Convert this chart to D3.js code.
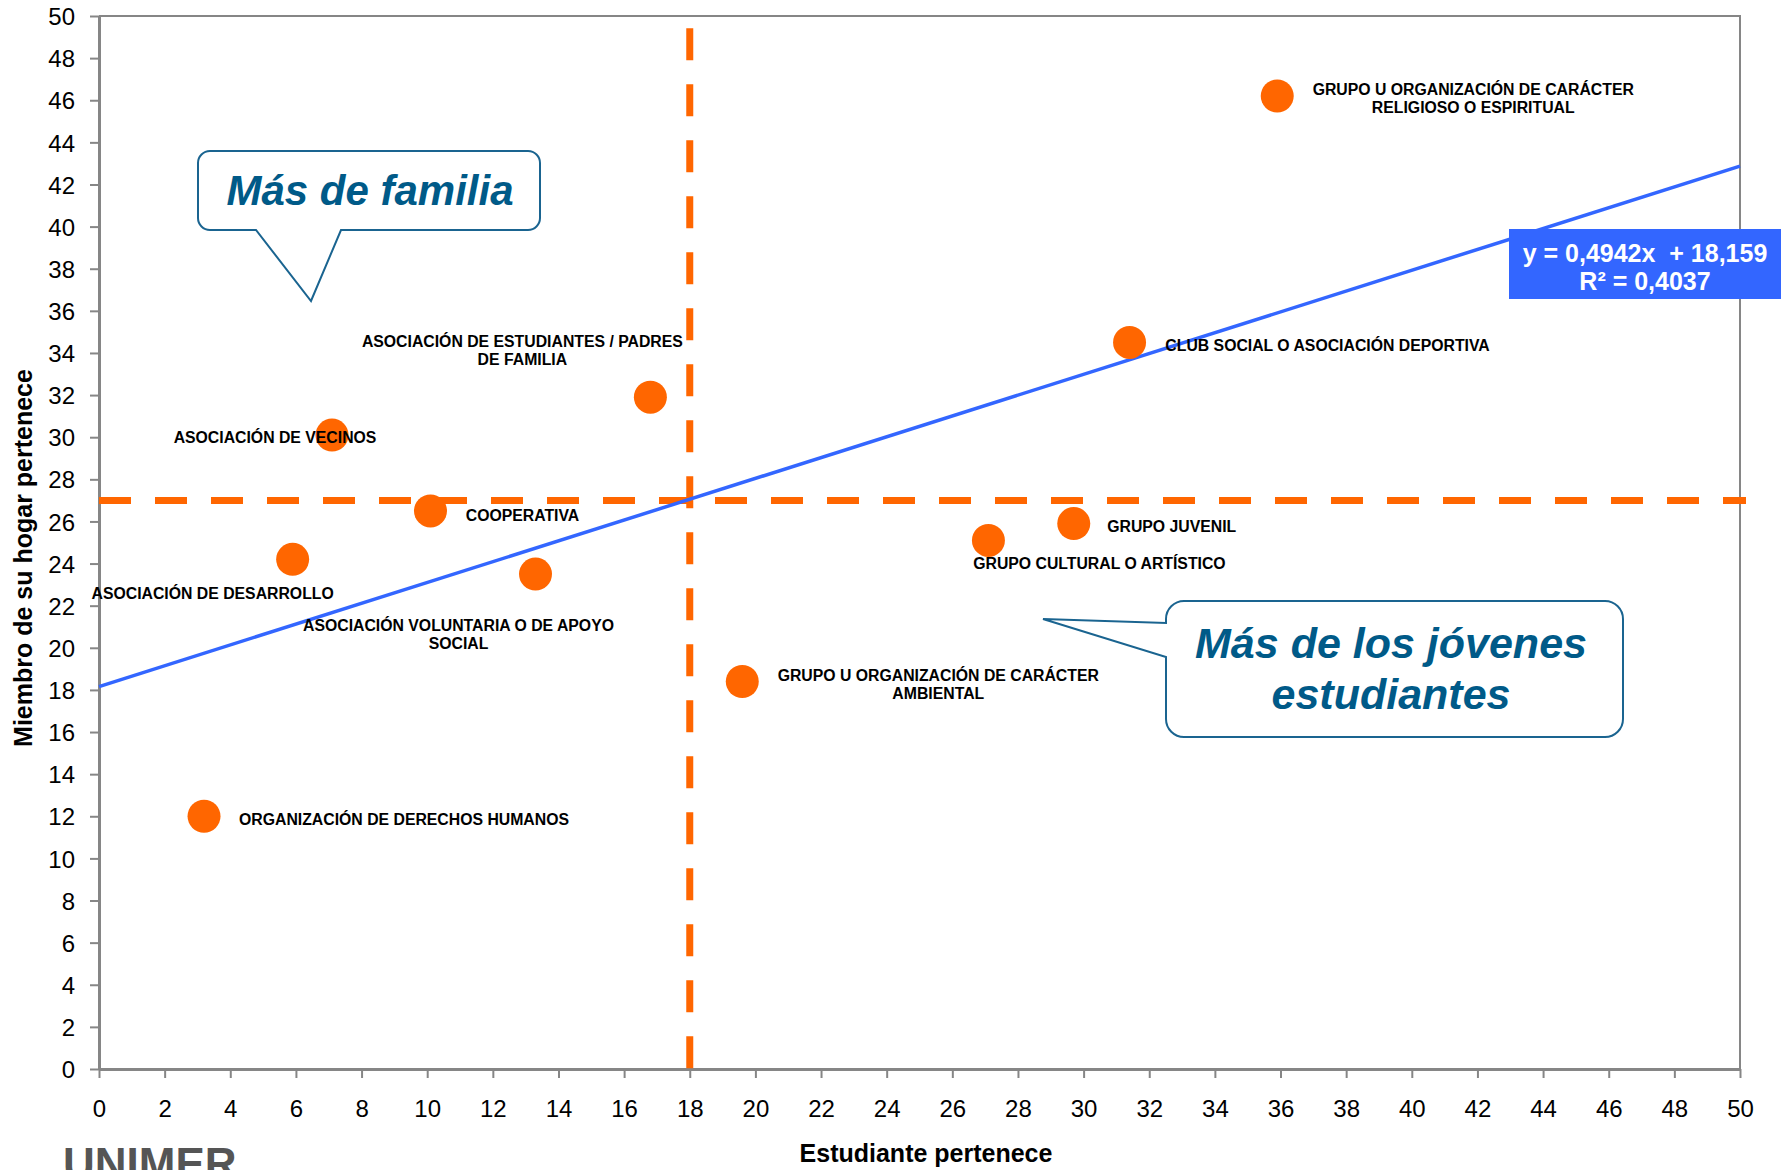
<!DOCTYPE html>
<html>
<head>
<meta charset="utf-8">
<script src="https://cdn.jsdelivr.net/npm/d3@7"></script>
<style>
  body { margin: 0; background: #fff; }
  text { font-family: "Liberation Sans", Arial, sans-serif; }
  .tick text { font-size: 24px; fill: #000; }
  .pointLabel { font-size: 15.8px; font-weight: bold; fill: #000; }
  .calloutText { font-weight: bold; font-style: italic; fill: #005a88; }
  .eq { white-space: pre; }
</style>
</head>
<body>
<div id="chart"></div>
<script>
// organisations (labels split into lines as in the original)
var groups = [
    ["GRUPO U ORGANIZACIÓN DE CARÁCTER", "RELIGIOSO O ESPIRITUAL"],
    ["CLUB SOCIAL O ASOCIACIÓN DEPORTIVA"],
    ["ASOCIACIÓN DE ESTUDIANTES / PADRES", "DE FAMILIA"],
    ["ASOCIACIÓN DE VECINOS"],
    ["COOPERATIVA"],
    ["ASOCIACIÓN DE DESARROLLO"],
    ["ASOCIACIÓN VOLUNTARIA O DE APOYO", "SOCIAL"],
    ["GRUPO CULTURAL O ARTÍSTICO"],
    ["GRUPO JUVENIL"],
    ["GRUPO U ORGANIZACIÓN DE CARÁCTER", "AMBIENTAL"],
    ["ORGANIZACIÓN DE DERECHOS HUMANOS"]
];
// % student belongs
var estudiante = [35.9, 31.4, 16.8, 7.1, 10.1, 5.9, 13.3, 27.1, 29.7, 19.6, 3.2];
// % household member belongs
var hogar = [46.2, 34.5, 31.9, 30.1, 26.5, 24.2, 23.5, 25.1, 25.9, 18.4, 12.0];

// linear trend line (Excel)
var trendSlope = 0.4942;
var trendIntercept = 18.159;
var trendText = ["y = 0,4942x  + 18,159", "R² = 0,4037"];

// quadrant reference lines
var refX = 18;
var refY = 27;

var xTicks = d3.range(0, 51, 2);
var yTicks = d3.range(0, 51, 2);

var xTitle = "Estudiante pertenece";
var yTitle = "Miembro de su hogar pertenece";
var calloutTop = ["Más de familia"];
var calloutBottom = ["Más de los jóvenes", "estudiantes"];

/**
 * Constructor for the scatter chart
 */
function ScatterChart(){
    var self = this;
    self.init();
}

ScatterChart.prototype.init = function(){
    var self = this;
    self.margin = {top: 16, right: 41, bottom: 101, left: 99};
    self.width = 1781;
    self.height = 1170;

    self.svg = d3.select("#chart").append("svg")
        .attr("width", self.width)
        .attr("height", self.height);

    self.xScale = d3.scaleLinear()
        .domain([0, 50])
        .range([self.margin.left, self.width - self.margin.right]);
    self.yScale = d3.scaleLinear()
        .domain([0, 50])
        .range([self.height - self.margin.bottom, self.margin.top]);
};

/**
 * rounded box with a speech tail, tail on bottom or left side
 */
ScatterChart.prototype.calloutPath = function(b){
    var r = b.r, x0 = b.x0, x1 = b.x1, y0 = b.y0, y1 = b.y1;
    var p = "M" + (x0 + r) + "," + y0 + "H" + (x1 - r) +
        "A" + r + "," + r + " 0 0 1 " + x1 + "," + (y0 + r) +
        "V" + (y1 - r) +
        "A" + r + "," + r + " 0 0 1 " + (x1 - r) + "," + y1;
    if (b.side == "bottom"){
        p += "H" + b.t2 + "L" + b.tip[0] + "," + b.tip[1] + "L" + b.t1 + "," + y1;
    }
    p += "H" + (x0 + r) +
        "A" + r + "," + r + " 0 0 1 " + x0 + "," + (y1 - r);
    if (b.side == "left"){
        p += "V" + b.t2 + "L" + b.tip[0] + "," + b.tip[1] + "L" + x0 + "," + b.t1;
    }
    p += "V" + (y0 + r) +
        "A" + r + "," + r + " 0 0 1 " + (x0 + r) + "," + y0 + "Z";
    return p;
};

ScatterChart.prototype.update = function(){
    var self = this;
    var x = self.xScale, y = self.yScale;
    var orange = "#ff6600", axisGrey = "#868686";

    var data = estudiante.map(function(d, i){
        return {x: d, y: hogar[i], label: groups[i]};
    });

    // plot frame top and right
    self.svg.append("path")
        .attr("d", "M" + x(0) + "," + y(50) + "H" + x(50) + "V" + y(0))
        .attr("fill", "none")
        .attr("stroke", axisGrey)
        .attr("stroke-width", 2);

    // axes
    var xAxis = self.svg.append("g")
        .attr("transform", "translate(0," + y(0) + ")")
        .call(d3.axisBottom(x).tickValues(xTicks).tickSize(9).tickPadding(22).tickSizeOuter(0));
    var yAxis = self.svg.append("g")
        .attr("transform", "translate(" + x(0) + ",0)")
        .call(d3.axisLeft(y).tickValues(yTicks).tickSize(9).tickPadding(15).tickSizeOuter(0));
    [xAxis, yAxis].forEach(function(a){
        a.select(".domain").attr("stroke", axisGrey).attr("stroke-width", 3);
        a.selectAll(".tick line").attr("stroke", axisGrey).attr("stroke-width", 2);
        a.selectAll(".tick text").attr("font-family", null).attr("font-size", null);
    });
    yAxis.selectAll(".tick text").attr("dy", "0.36em");

    // quadrant lines
    self.svg.append("line")
        .attr("x1", x(0)).attr("x2", x(50) + 6)
        .attr("y1", y(refY)).attr("y2", y(refY))
        .attr("stroke", orange).attr("stroke-width", 7)
        .attr("stroke-dasharray", "32,24");
    self.svg.append("line")
        .attr("x1", x(refX)).attr("x2", x(refX))
        .attr("y1", y(49.42)).attr("y2", y(0))
        .attr("stroke", orange).attr("stroke-width", 7)
        .attr("stroke-dasharray", "32,24");

    // trend line
    self.svg.append("line")
        .attr("x1", x(0)).attr("y1", y(trendIntercept))
        .attr("x2", x(50)).attr("y2", y(trendIntercept + trendSlope * 50))
        .attr("stroke", "#3366ff").attr("stroke-width", 3.5);

    // points
    self.svg.selectAll("circle.point")
        .data(data)
        .enter().append("circle")
        .attr("class", "point")
        .attr("cx", function(d){ return x(d.x); })
        .attr("cy", function(d){ return y(d.y); })
        .attr("r", 16.5)
        .attr("fill", orange);

    // label offsets from the point (center x, first baseline)
    var offsets = [[196, -1], [198, 9], [-128, -50], [-57, 8], [92, 10], [-80, 40],
                   [-77, 57], [111, 29], [98, 8], [196, 0], [200, 9]];

    var labels = self.svg.selectAll("text.pointLabel")
        .data(data)
        .enter().append("text")
        .attr("class", "pointLabel")
        .attr("text-anchor", "middle");
    labels.each(function(d, i){
        var t = d3.select(this);
        d.label.forEach(function(line, j){
            t.append("tspan")
                .attr("x", x(d.x) + offsets[i][0])
                .attr("y", y(d.y) + offsets[i][1] + j * 18)
                .text(line);
        });
    });

    // equation box
    self.svg.append("rect")
        .attr("x", 1509).attr("y", 229)
        .attr("width", 275).attr("height", 70)
        .attr("fill", "#3366ff");
    self.svg.selectAll("text.eq")
        .data(trendText)
        .enter().append("text")
        .attr("class", "eq")
        .attr("x", 1645)
        .attr("y", function(d, i){ return 262 + i * 28; })
        .attr("text-anchor", "middle")
        .attr("font-size", "25px")
        .attr("font-weight", "bold")
        .attr("fill", "#fff")
        .text(function(d){ return d; });

    // callouts
    var callouts = [
        {x0: 198, x1: 540, y0: 151, y1: 230, r: 12, side: "bottom", t1: 256, t2: 341, tip: [311, 301],
         lines: calloutTop, cx: 370, y: 205, size: 42},
        {x0: 1166, x1: 1623, y0: 601, y1: 737, r: 18, side: "left", t1: 623, t2: 657, tip: [1043, 619],
         lines: calloutBottom, cx: 1391, y: 658, size: 43}
    ];
    callouts.forEach(function(c){
        self.svg.append("path")
            .attr("d", self.calloutPath(c))
            .attr("fill", "#fff")
            .attr("stroke", "#1a6490")
            .attr("stroke-width", 2);
        c.lines.forEach(function(line, j){
            self.svg.append("text")
                .attr("class", "calloutText")
                .attr("x", c.cx)
                .attr("y", c.y + j * 51)
                .attr("text-anchor", "middle")
                .attr("font-size", c.size + "px")
                .text(line);
        });
    });

    // axis titles
    self.svg.append("text")
        .attr("x", 926).attr("y", 1162)
        .attr("text-anchor", "middle")
        .attr("font-size", "25px").attr("font-weight", "bold")
        .text(xTitle);
    self.svg.append("text")
        .attr("transform", "translate(32,558) rotate(-90)")
        .attr("text-anchor", "middle")
        .attr("font-size", "25px").attr("font-weight", "bold")
        .text(yTitle);

    // logo, cut by the bottom edge as in the source picture
    self.svg.append("text")
        .attr("x", 63).attr("y", 1179)
        .attr("font-size", "44px").attr("font-weight", "bold")
        .attr("fill", "#555")
        .text("UNIMER");
};

var chart = new ScatterChart();
chart.update();
</script>
</body>
</html>
